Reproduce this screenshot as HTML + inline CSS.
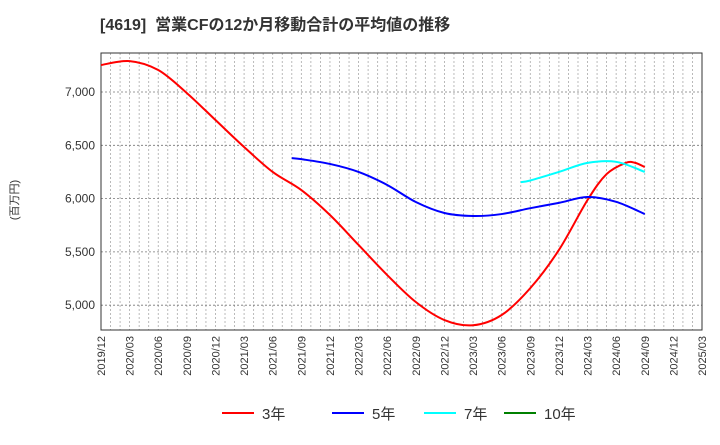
<!DOCTYPE html>
<html><head><meta charset="utf-8"><style>
body{margin:0;background:#fff;font-family:"Liberation Sans","Noto Sans CJK JP",sans-serif;}
</style></head><body>
<svg id="c" width="720" height="440" xmlns="http://www.w3.org/2000/svg" style="font-family:'Liberation Sans','Noto Sans CJK JP',sans-serif">
<text x="100" y="30" font-size="16" font-weight="bold" fill="#333" xml:space="preserve">[4619]  営業CFの12か月移動合計の平均値の推移</text>
<text transform="translate(18,200) rotate(-90)" font-size="11" fill="#333" text-anchor="middle">(百万円)</text>
<g id="grid"></g><g id="axes"></g><g id="lines"></g><g id="legend"></g>
</svg>
<script>
const xTickLabels=["2019/12","2020/03","2020/06","2020/09","2020/12","2021/03","2021/06","2021/09","2021/12","2022/03","2022/06","2022/09","2022/12","2023/03","2023/06","2023/09","2023/12","2024/03","2024/06","2024/09","2024/12","2025/03"];
const yTicks=[5000,5500,6000,6500,7000];
const s3Months=["2019/12","2020/03","2020/06","2020/09","2020/12","2021/03","2021/06","2021/09","2021/12","2022/03","2022/06","2022/09","2022/12","2023/03","2023/06","2023/09","2023/12","2024/03","2024/05","2024/07","2024/08","2024/09"];
const s3Values=[7253,7290,7206,6990,6737,6484,6250,6080,5846,5565,5283,5030,4861,4812,4908,5160,5518,5987,6230,6335,6335,6296];
const s5Months=["2021/08","2021/09","2021/12","2022/03","2022/06","2022/09","2022/12","2023/03","2023/06","2023/09","2023/12","2024/03","2024/06","2024/09"];
const s5Values=[6380,6370,6325,6250,6128,5968,5865,5837,5855,5910,5960,6015,5970,5855];
const s7Months=["2023/08","2023/09","2023/12","2024/03","2024/06","2024/09"];
const s7Values=[6155,6170,6250,6335,6345,6250];
const s10Months=[];const s10Values=[];
const L=101,R=702,T=53,B=330;
const nM=63;
function mi(s){const [y,m]=s.split('/').map(Number);return (y-2019)*12+m-12;}
function X(s){return L+(R-L)*mi(s)/nM;}
function Y(v){return 92+(7000-v)*213.2/2000;}
const NS="http://www.w3.org/2000/svg";
function mk(t,a,p){const e=document.createElementNS(NS,t);for(const k in a)e.setAttribute(k,a[k]);p.appendChild(e);return e;}
const grid=document.getElementById('grid'),axes=document.getElementById('axes');
for(let i=0;i<=nM;i++){const x=L+(R-L)*i/nM;const g=mk('line',{x1:x,x2:x,y1:T,y2:B,stroke:'#aaa','stroke-width':0.8,'stroke-dasharray':'2,2'},grid);

}
yTicks.forEach(v=>{const g=mk('line',{x1:L,x2:R,y1:Y(v),y2:Y(v),stroke:'#777','stroke-width':0.8,'stroke-dasharray':'2,2'},grid);


const t=mk('text',{x:L-6,y:Y(v)+4,'font-size':12,'text-anchor':'end',fill:'#333'},axes);t.textContent=v.toLocaleString('en-US');

});
const fr=mk('rect',{x:L,y:T,width:R-L,height:B-T,fill:'none',stroke:'#333','stroke-width':1},axes);


xTickLabels.forEach(s=>{const x=X(s);const t=mk('text',{transform:`translate(${x+4},${B+6}) rotate(-90)`,'font-size':11,'text-anchor':'end',fill:'#333'},axes);t.textContent=s;

});
function path(ms,vs){const p=ms.map((m,i)=>[X(m),Y(vs[i])]);if(!p.length)return '';let d=`M${p[0][0]},${p[0][1]}`;
for(let i=0;i<p.length-1;i++){const p0=p[i-1]||p[i],p1=p[i],p2=p[i+1],p3=p[i+2]||p2;
d+=` C${p1[0]+(p2[0]-p0[0])/6},${p1[1]+(p2[1]-p0[1])/6} ${p2[0]-(p3[0]-p1[0])/6},${p2[1]-(p3[1]-p1[1])/6} ${p2[0]},${p2[1]}`;}return d;}
const lines=document.getElementById('lines');
[[s3Months,s3Values,'#ff0000','line-3yr'],[s5Months,s5Values,'#0000ff','line-5yr'],[s7Months,s7Values,'#00ffff','line-7yr'],[s10Months,s10Values,'#008000','line-10yr']].forEach(([m,v,c,n])=>{
const e=mk('path',{d:path(m,v),fill:'none',stroke:c,'stroke-width':2},lines);

});
const leg=document.getElementById('legend');
[['3年','#ff0000',222],['5年','#0000ff',332],['7年','#00ffff',424],['10年','#008000',504]].forEach(([t,c,x])=>{
const g=mk('g',{},leg);


mk('line',{x1:x,x2:x+32,y1:413,y2:413,stroke:c,'stroke-width':2},g);
const tx=mk('text',{x:x+40,y:419,'font-size':15,fill:'#333'},g);tx.textContent=t;});
</script>
</body></html>
